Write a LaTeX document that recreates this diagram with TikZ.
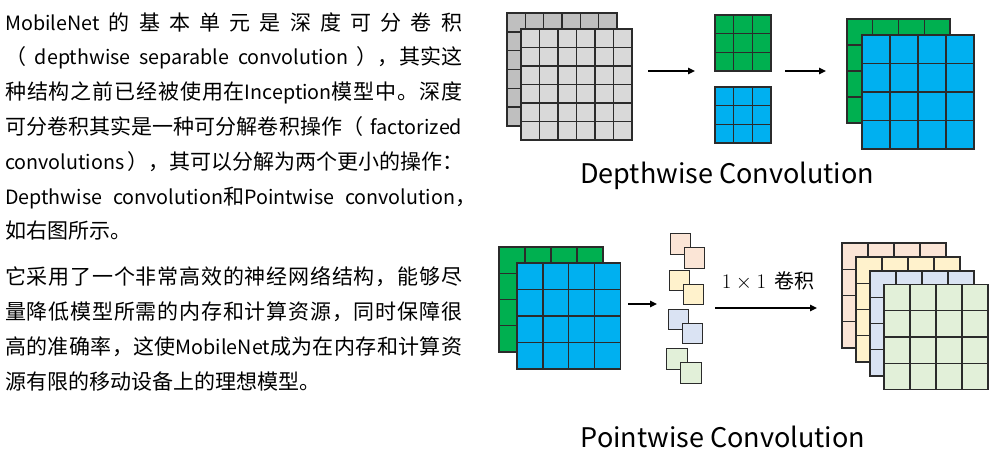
\documentclass[tikz,border=0pt]{standalone}
\usepackage[no-math]{fontspec}
\setmainfont{Noto Sans CJK SC}
\usetikzlibrary{arrows.meta,calc}
\chardef\mycls=10
\makeatletter
\count@="4E00
\loop \XeTeXcharclass\count@=\mycls \advance\count@ by 1 \ifnum\count@<"A000 \repeat
\makeatother
\XeTeXcharclass"3002=\mycls
\XeTeXcharclass"FF08=\mycls
\XeTeXcharclass"FF09=\mycls
\XeTeXcharclass"FF0C=\mycls
\XeTeXcharclass"FF1A=\mycls
\XeTeXinterchartoks\mycls\mycls={\hskip 0pt plus 0.05pt\relax}
\XeTeXinterchartoks 0 \mycls={\hskip 0pt plus 0.05pt\relax}
\XeTeXinterchartoks\mycls 0 ={\hskip 0pt plus 0.05pt\relax}
\XeTeXinterchartokenstate=1
\definecolor{gridc}{HTML}{2B2B2B}
\definecolor{grayA}{HTML}{BFBFBF}
\definecolor{grayB}{HTML}{D9D9D9}
\definecolor{dgreen}{HTML}{00B050}
\definecolor{dblue}{HTML}{00B0F0}
\definecolor{peach}{HTML}{FBE5D6}
\definecolor{lyellow}{HTML}{FFF2CC}
\definecolor{lblue}{HTML}{DAE3F3}
\definecolor{lgreen}{HTML}{E2F0D9}
\newcommand\jline[2][457pt]{\hbox to #1{#2}}
\newcommand\lat[1]{{\fontsize{19.7}{24}\selectfont #1}}
\begin{document}
\begin{tikzpicture}[x=1pt,y=-1pt,
  cells/.store in=\ncells, cells=4,
  gridbox/.style={draw=gridc, line width=1.4pt, anchor=north west, inner sep=0pt, outer sep=0pt,
    path picture={
      \pgfmathtruncatemacro\nm{\ncells-1}
      \foreach \k in {1,...,\nm}{
        \draw[gridc, line width=1.4pt]
          ($(path picture bounding box.north west)!{\k/\ncells}!(path picture bounding box.north east)$) --
          ($(path picture bounding box.south west)!{\k/\ncells}!(path picture bounding box.south east)$)
          ($(path picture bounding box.north west)!{\k/\ncells}!(path picture bounding box.south west)$) --
          ($(path picture bounding box.north east)!{\k/\ncells}!(path picture bounding box.south east)$);
      }}},
  sq/.style={draw=gridc, line width=1pt, minimum size=20.5pt, anchor=north west, inner sep=0pt, outer sep=0pt},
  arr/.style={line width=1.5pt, -{Triangle[length=7pt,width=6.5pt]}},
  body/.style={anchor=base west, inner sep=0pt, font=\fontsize{21}{25}\selectfont},
  head/.style={inner sep=0pt, font=\fontsize{27}{32}\selectfont}]
\useasboundingbox (0,0) rectangle (998,453);
% left text, paragraph 1
\node[body] (p1) at (5,30) {\jline{\lat{MobileNet} 的 基 本 单 元 是 深 度 可 分 卷 积}};
\node[body] (p2) at (5,64.8) {\jline{（ \lat{depthwise} \lat{separable} \lat{convolution} ），其实这}};
\node[body] (p3) at (5,99.6) {\jline{种结构之前已经被使用在\lat{Inception}模型中。深度}};
\node[body] (p4) at (5,134.4) {\jline{可分卷积其实是一种可分解卷积操作（ \lat{factorized}}};
\node[body] (p5) at (5,169.2) {\jline{\lat{convolutions} ），其可以分解为两个更小的操作：}};
\node[body] (p6) at (5,204) {\jline[450pt]{\lat{Depthwise} \lat{convolution}和\lat{Pointwise} \lat{convolution}\rlap{，}}};
\node[body] (p7) at (5,238.8) {如右图所示。};
% paragraph 2
\node[body] (q1) at (5,284) {\jline{它采用了一个非常高效的神经网络结构，能够尽}};
\node[body] (q2) at (5,319) {\jline{量降低模型所需的内存和计算资源，同时保障很}};
\node[body] (q3) at (5,354) {\jline{高的准确率，这使\lat{MobileNet}成为在内存和计算资}};
\node[body] (q4) at (5,389) {源有限的移动设备上的理想模型。};
% depthwise
\node[gridbox, cells=6, fill=grayA, minimum width=110pt, minimum height=113pt] (dwa) at (507,13) {};
\node[gridbox, cells=6, fill=grayB, minimum width=111pt, minimum height=111pt] (dwb) at (521,29) {};
\node[gridbox, cells=3, fill=dgreen, minimum width=56pt, minimum height=56pt] (kg) at (715,15) {};
\node[gridbox, cells=3, fill=dblue, minimum width=56pt, minimum height=56pt] (kb) at (715,87) {};
\node[gridbox, cells=4, fill=dgreen, minimum width=103pt, minimum height=104pt] (og) at (847,19) {};
\node[gridbox, cells=4, fill=dblue, minimum width=112pt, minimum height=114pt] (ob) at (862,35) {};
\coordinate (a1s) at (648,71); \coordinate (a1e) at (695,71);
\coordinate (a2s) at (785,71); \coordinate (a2e) at (826,71);
\draw[arr] (a1s) -- (a1e);
\draw[arr] (a2s) -- (a2e);
\node[head] (hd) at (727,176) {Depthwise Convolution};
% pointwise
\node[gridbox, cells=4, fill=dgreen, minimum width=104pt, minimum height=105pt] (pg) at (499,247) {};
\node[gridbox, cells=4, fill=dblue, minimum width=103.5pt, minimum height=106pt] (pb) at (517,263) {};
\node[sq, fill=peach] (s1a) at (670,233.5) {};
\node[sq, fill=peach] (s1b) at (684,247.5) {};
\node[sq, fill=lyellow] (s2a) at (669,270) {};
\node[sq, fill=lyellow] (s2b) at (683,284) {};
\node[sq, fill=lblue] (s3a) at (668,309) {};
\node[sq, fill=lblue] (s3b) at (682,323) {};
\node[sq, fill=lgreen] (s4a) at (666.5,348.5) {};
\node[sq, fill=lgreen] (s4b) at (680.5,362.5) {};
\coordinate (a3s) at (628,304); \coordinate (a3e) at (657,304);
\coordinate (a4s) at (715,308); \coordinate (a4e) at (817,308);
\draw[arr] (a3s) -- (a3e);
\draw[arr] (a4s) -- (a4e);
\node[inner sep=0pt, font=\fontsize{20}{24}\selectfont] (lbl) at (768,281) {$1\times1$\kern 8pt 卷积};
\node[gridbox, cells=4, fill=peach, minimum width=104pt, minimum height=105pt] (l1) at (842,243) {};
\node[gridbox, cells=4, fill=lyellow, minimum width=104pt, minimum height=105pt] (l2) at (856,257) {};
\node[gridbox, cells=4, fill=lblue, minimum width=104pt, minimum height=105pt] (l3) at (870,271) {};
\node[gridbox, cells=4, fill=lgreen, minimum width=104pt, minimum height=105pt] (l4) at (884,284.5) {};
\node[head] (hp) at (723,437) {Pointwise Convolution};
\end{tikzpicture}
\end{document}
